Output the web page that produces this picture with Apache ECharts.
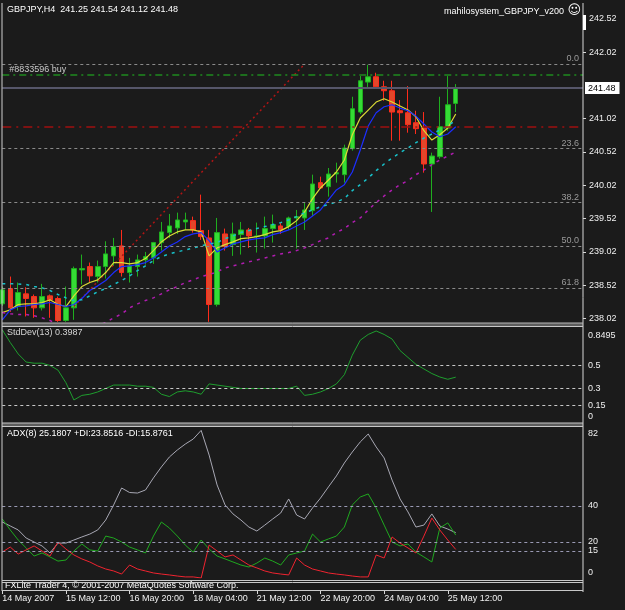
<!DOCTYPE html>
<html>
<head>
<meta charset="utf-8">
<script src="https://cdn.jsdelivr.net/npm/echarts@6/dist/echarts.min.js"></script>
<style>
    html, body { margin: 0; padding: 0; background: #1b1b1b; }
    #chart { width: 625px; height: 610px; }
</style>
</head>
<body>
<div id="chart"></div>
<script>
var symbolName = 'GBPJPY,H4';
var expertName = 'mahilosystem_GBPJPY_v200';
var firstLabel = '14 May 2007';

var barTimes = [
    '14 May 04:00', '14 May 08:00', '14 May 12:00', '14 May 16:00', '14 May 20:00',
    '15 May 00:00', '15 May 04:00', '15 May 08:00', '15 May 12:00', '15 May 16:00', '15 May 20:00',
    '16 May 00:00', '16 May 04:00', '16 May 08:00', '16 May 12:00', '16 May 16:00', '16 May 20:00',
    '17 May 00:00', '17 May 04:00', '17 May 08:00', '17 May 12:00', '17 May 16:00', '17 May 20:00',
    '18 May 00:00', '18 May 04:00', '18 May 08:00', '18 May 12:00', '18 May 16:00', '18 May 20:00',
    '21 May 00:00', '21 May 04:00', '21 May 08:00', '21 May 12:00', '21 May 16:00', '21 May 20:00',
    '22 May 00:00', '22 May 04:00', '22 May 08:00', '22 May 12:00', '22 May 16:00', '22 May 20:00',
    '23 May 00:00', '23 May 04:00', '23 May 08:00', '23 May 12:00', '23 May 16:00', '23 May 20:00',
    '24 May 00:00', '24 May 04:00', '24 May 08:00', '24 May 12:00', '24 May 16:00', '24 May 20:00',
    '25 May 00:00', '25 May 04:00', '25 May 08:00', '25 May 12:00', '25 May 16:00'
];

var opens = [
    238.24, 238.47, 238.20, 238.39, 238.35, 238.18, 238.36, 238.32, 237.99, 238.18,
    238.75, 238.80, 238.65, 238.80, 238.96, 239.11, 238.71, 238.80, 238.90, 238.93,
    239.16, 239.31, 239.38, 239.47, 239.49, 239.34, 239.23, 238.23, 239.29, 239.13,
    239.28, 239.35, 239.25, 239.26, 239.37, 239.41, 239.40, 239.53, 239.53, 239.64,
    240.06, 240.00, 240.19, 240.18, 240.57, 241.12, 241.57, 241.65, 241.50, 241.44,
    241.14, 241.11, 240.96, 240.88, 240.34, 240.45, 240.88, 241.25
];
var closes = [
    238.45, 238.18, 238.41, 238.32, 238.18, 238.35, 238.30, 237.99, 238.18, 238.77,
    238.77, 238.66, 238.80, 238.99, 239.10, 238.71, 238.81, 238.90, 238.95, 239.16,
    239.32, 239.41, 239.50, 239.50, 239.35, 239.25, 238.23, 239.31, 239.10, 239.29,
    239.35, 239.26, 239.26, 239.37, 239.43, 239.35, 239.53, 239.55, 239.65, 240.04,
    239.98, 240.19, 240.21, 240.58, 241.17, 241.59, 241.65, 241.50, 241.44, 241.12,
    241.11, 240.93, 240.87, 240.34, 240.46, 240.90, 241.23, 241.48
];
var lows = [
    238.21, 238.12, 238.14, 238.05, 238.03, 238.14, 238.03, 237.97, 237.97, 238.00,
    238.53, 238.57, 238.56, 238.62, 238.81, 238.65, 238.56, 238.65, 238.83, 238.84,
    239.04, 239.23, 239.29, 239.35, 239.31, 239.20, 237.97, 238.20, 239.04, 238.96,
    238.98, 239.08, 239.01, 239.07, 239.16, 239.29, 239.35, 239.07, 239.35, 239.56,
    239.97, 239.85, 240.06, 240.06, 240.54, 241.09, 241.47, 241.47, 241.29, 240.69,
    240.69, 240.81, 240.79, 240.21, 239.62, 240.42, 240.84, 241.12
];
var highs = [
    238.50, 238.65, 238.56, 238.49, 238.38, 238.54, 238.38, 238.35, 238.50, 238.80,
    238.98, 238.86, 238.89, 239.18, 239.23, 239.35, 238.93, 238.98, 239.02, 239.17,
    239.47, 239.59, 239.61, 239.61, 239.55, 239.88, 239.35, 239.53, 239.37, 239.46,
    239.47, 239.38, 239.46, 239.55, 239.58, 239.46, 239.55, 239.65, 239.76, 240.18,
    240.15, 240.28, 240.36, 240.63, 241.35, 241.66, 241.83, 241.71, 241.59, 241.59,
    241.30, 241.51, 241.14, 241.12, 240.51, 241.35, 241.66, 241.54
];

// moving averages
var maFast = [
    238.11, 238.15, 238.23, 238.24, 238.24, 238.26, 238.30, 238.23, 238.20, 238.36,
    238.50, 238.56, 238.60, 238.71, 238.86, 238.86, 238.84, 238.86, 238.92, 239.04,
    239.17, 239.26, 239.32, 239.35, 239.35, 239.32, 238.96, 239.08, 239.13, 239.17,
    239.22, 239.23, 239.25, 239.28, 239.32, 239.34, 239.40, 239.49, 239.62, 239.82,
    239.98, 240.10, 240.22, 240.40, 240.78, 241.03, 241.15, 241.27, 241.32, 241.27,
    241.21, 241.15, 241.05, 240.84, 240.70, 240.78, 240.88, 241.09
];
var maSlow = [
    238.00, 238.15, 238.20, 238.21, 238.23, 238.24, 238.26, 238.23, 238.20, 238.23,
    238.32, 238.44, 238.51, 238.59, 238.71, 238.80, 238.81, 238.83, 238.86, 238.93,
    239.02, 239.11, 239.17, 239.25, 239.29, 239.31, 239.19, 239.02, 239.08, 239.14,
    239.17, 239.20, 239.22, 239.23, 239.28, 239.31, 239.35, 239.41, 239.47, 239.56,
    239.65, 239.80, 239.95, 240.03, 240.22, 240.55, 240.91, 241.11, 241.20, 241.23,
    241.18, 241.14, 241.06, 240.94, 240.82, 240.75, 240.79, 240.90
];
var maMid = [
    238.54, 238.54, 238.54, 238.53, 238.50, 238.48, 238.44, 238.38, 238.33, 238.29,
    238.30, 238.36, 238.42, 238.47, 238.53, 238.59, 238.66, 238.74, 238.81, 238.89,
    238.95, 238.99, 239.02, 239.05, 239.08, 239.11, 239.14, 239.16, 239.22, 239.26,
    239.31, 239.34, 239.37, 239.40, 239.43, 239.46, 239.50, 239.55, 239.61, 239.65,
    239.70, 239.73, 239.77, 239.82, 239.94, 240.03, 240.13, 240.24, 240.34, 240.43,
    240.51, 240.58, 240.66, 240.73, 240.79, 240.85, 240.91, 241.00
];
var maLong = [
    238.11, 238.09, 238.08, 238.08, 238.06, 238.03, 237.99, 237.93, 237.88, 237.85,
    237.85, 237.88, 237.91, 237.96, 238.03, 238.09, 238.18, 238.24, 238.29, 238.33,
    238.39, 238.45, 238.50, 238.56, 238.60, 238.65, 238.68, 238.72, 238.78, 238.81,
    238.84, 238.87, 238.90, 238.93, 238.96, 238.99, 239.01, 239.04, 239.08, 239.13,
    239.19, 239.23, 239.31, 239.37, 239.46, 239.53, 239.65, 239.76, 239.86, 239.95,
    240.03, 240.09, 240.18, 240.25, 240.33, 240.40, 240.46, 240.52
];

var stdDev = [
    0.81, 0.70, 0.60, 0.53, 0.52, 0.52, 0.50, 0.46, 0.35, 0.20,
    0.24, 0.25, 0.27, 0.30, 0.33, 0.33, 0.33, 0.32, 0.32, 0.31,
    0.25, 0.23, 0.27, 0.28, 0.27, 0.25, 0.34, 0.33, 0.32, 0.31,
    0.30, 0.30, 0.30, 0.30, 0.30, 0.30, 0.30, 0.32, 0.24, 0.25,
    0.27, 0.30, 0.34, 0.42, 0.59, 0.72, 0.77, 0.80, 0.77, 0.73,
    0.63, 0.57, 0.51, 0.47, 0.43, 0.40, 0.38, 0.3987
];

var adxMain = [
    31.1, 28.9, 26.7, 22.2, 20.0, 17.8, 13.9, 19.4, 19.4, 21.1,
    22.8, 24.4, 26.7, 32.2, 40.6, 50.0, 47.5, 47.2, 48.9, 55.6,
    61.7, 67.2, 71.1, 74.4, 77.2, 82.0, 68.3, 51.7, 40.6, 35.6,
    32.2, 28.3, 26.1, 29.4, 32.8, 36.1, 43.9, 35.0, 32.8, 38.9,
    44.4, 50.6, 56.7, 63.9, 70.0, 75.6, 80.0, 72.8, 66.7, 54.4,
    43.9, 36.7, 28.3, 29.4, 35.6, 28.9, 27.2, 25.1807
];
var plusDI = [
    32.8, 26.7, 21.1, 16.7, 12.2, 13.9, 11.7, 9.4, 10.0, 15.0,
    18.9, 15.6, 15.0, 23.3, 22.2, 20.0, 17.2, 15.6, 13.9, 23.3,
    31.1, 27.8, 23.3, 18.3, 14.4, 21.1, 16.1, 12.2, 10.6, 8.9,
    7.2, 6.1, 8.3, 11.1, 9.4, 7.2, 12.8, 13.9, 15.0, 24.4,
    20.0, 21.7, 23.3, 28.3, 40.6, 45.0, 46.7, 38.9, 29.4, 20.0,
    17.8, 18.9, 14.4, 11.7, 8.9, 27.8, 30.6, 23.8516
];
var minusDI = [
    14.4, 17.2, 13.3, 15.6, 17.8, 15.0, 12.2, 20.0, 16.1, 12.8,
    10.6, 8.9, 6.7, 5.0, 3.9, 2.2, 7.2, 5.0, 3.9, 2.8,
    2.2, 1.7, 1.1, 0.6, 0.6, 0.0, 18.3, 15.0, 11.7, 12.8,
    10.0, 7.2, 5.6, 3.9, 2.8, 2.2, 1.7, 11.1, 7.2, 5.0,
    3.9, 2.8, 2.2, 1.7, 1.1, 0.6, 0.6, 12.8, 11.1, 22.8,
    19.4, 16.7, 13.9, 23.3, 33.3, 26.7, 21.1, 15.8761
];

var priceTicks = [238.02, 238.52, 239.02, 239.52, 240.02, 240.52, 241.02, 242.02, 242.52];
var stdTicks = [0, 0.15, 0.3, 0.5, 0.8495];
var adxTicks = [0, 15, 20, 40, 82];
var stdLevels = [0.5, 0.3, 0.15];
var adxLevels = [40, 20, 15];

var fibLevels = [241.84, 240.57, 239.76, 239.11, 238.48];
var fibNames = ['0.0', '23.6', '38.2', '50.0', '61.8'];
var orderOpen = 241.68;
var stopLoss = 240.90;
var bidPrice = 241.48;
var trendStart = [9, 238.20];
var trendEnd = [38, 241.84];

document.addEventListener("DOMContentLoaded", function () {

    var font = 'Liberation Sans, Arial, sans-serif';
    var white = '#f0f0f0';
    var last = closes.length - 1;

    // empty slots on the right (chart shift)
    var categories = barTimes.slice();
    for (var k = 0; k < 16; k++) {
        categories.push('');
    }

    var candleData = opens.map(function (o, i) {
        return [o, closes[i], lows[i], highs[i]];
    });

    var mainLines = fibLevels.map(function (v, i) {
        return {
            yAxis: v,
            lineStyle: { color: '#8a8a8a', type: [3, 3], width: 1 },
            label: {
                show: true, formatter: fibNames[i], position: 'insideEndTop', distance: 1,
                color: '#9a9a9a', fontSize: 9, fontFamily: font, padding: [0, 3, 0, 0]
            }
        };
    });
    mainLines.push({
        yAxis: orderOpen,
        lineStyle: { color: '#1f8a1f', type: [7, 4, 2, 4], width: 1.5 },
        label: {
            show: true, formatter: '#8833596 buy', position: 'insideStartTop', distance: 1,
            color: '#c8c8c8', fontSize: 9, fontFamily: font, padding: [0, 0, 0, 6]
        }
    });
    mainLines.push({
        yAxis: stopLoss,
        lineStyle: { color: '#a01010', type: [9, 5, 2, 5], width: 1.5 },
        label: { show: false }
    });
    mainLines.push({
        yAxis: bidPrice,
        lineStyle: { color: '#56566a', type: 'solid', width: 2 },
        label: {
            show: true, position: 'end', distance: 2, formatter: bidPrice.toFixed(2),
            color: '#000', backgroundColor: '#fff', padding: [2, 4, 1, 3],
            fontSize: 9, fontFamily: font
        }
    });

    function levelLines(levels, color) {
        return {
            silent: true,
            symbol: ['none', 'none'],
            animation: false,
            label: { show: false },
            lineStyle: { color: color, type: [3, 3], width: 1 },
            data: levels.map(function (v) { return { yAxis: v }; })
        };
    }

    function lineSeries(name, data, xi, color, width, dash) {
        return {
            name: name,
            type: 'line',
            xAxisIndex: xi,
            yAxisIndex: xi,
            data: data,
            symbol: 'none',
            showSymbol: false,
            emphasis: { disabled: true },
            lineStyle: { color: color, width: width, type: dash || 'solid' }
        };
    }

    function frameLine(x1, y1, x2, y2, color, w) {
        return {
            type: 'line', z: 100, silent: true,
            shape: { x1: x1, y1: y1, x2: x2, y2: y2 },
            style: { stroke: color, lineWidth: w || 1 }
        };
    }

    var titleStyle = { color: '#ffffff', fontSize: 9, fontWeight: 'normal', fontFamily: font };
    var showEvery8 = function (index, value) { return index % 8 === 0 && value !== ''; };

    var option = {
        backgroundColor: '#1b1b1b',
        animation: false,
        title: [
            {
                text: symbolName + '  ' + [opens[last], highs[last], lows[last], closes[last]].map(function (v) { return v.toFixed(2); }).join(' '),
                left: 7, top: 5, padding: 0, textStyle: titleStyle
            },
            { text: expertName, right: 61, top: 7, padding: 0, textStyle: titleStyle },
            { text: '\u263A', right: 44, top: 4, padding: 0, textStyle: { color: '#ffffff', fontSize: 13, fontFamily: 'DejaVu Sans' } },
            {
                text: 'StdDev(13) ' + stdDev[last].toFixed(4),
                left: 7, top: 328, padding: 0, textStyle: { color: '#d4d4d4', fontSize: 9, fontWeight: 'normal', fontFamily: font }
            },
            {
                text: 'ADX(8) ' + adxMain[last].toFixed(4) + ' +DI:' + plusDI[last].toFixed(4) + ' -DI:' + minusDI[last].toFixed(4),
                left: 7, top: 429, padding: 0, textStyle: titleStyle
            },
            {
                text: 'FXLite Trader 4, \u00A9 2001-2007 MetaQuotes Software Corp.',
                left: 5, top: 581, padding: 0, textStyle: titleStyle
            }
        ],
        grid: [
            { left: 2.3, right: 42, top: 3.5, height: 319, outerBoundsMode: 'none' },
            { left: 2.3, right: 42, top: 325.3, height: 97.7, outerBoundsMode: 'none' },
            { left: 2.3, right: 42, top: 430.4, height: 147.6, outerBoundsMode: 'none' },
            { left: 2.3, right: 42, top: 586, height: 4, outerBoundsMode: 'none' }
        ],
        xAxis: [
            { type: 'category', gridIndex: 0, data: categories, boundaryGap: false, show: false },
            { type: 'category', gridIndex: 1, data: categories, boundaryGap: false, show: false },
            { type: 'category', gridIndex: 2, data: categories, boundaryGap: false, show: false },
            {
                type: 'category', gridIndex: 3, data: categories, boundaryGap: false,
                position: 'bottom',
                axisLine: { show: false },
                splitLine: { show: false },
                axisTick: {
                    show: true, length: 4,
                    lineStyle: { color: '#d8d8d8' },
                    interval: showEvery8
                },
                axisLabel: {
                    color: white, fontSize: 9, fontFamily: font, align: 'left', margin: 4,
                    interval: showEvery8,
                    formatter: function (value, index) { return index === 0 ? firstLabel : value; }
                }
            }
        ],
        yAxis: [
            {
                type: 'value', gridIndex: 0, position: 'right', min: 237.96, max: 242.75,
                axisLine: { show: false },
                splitLine: { show: false },
                axisTick: { show: true, length: 3, lineStyle: { color: '#d8d8d8' }, customValues: priceTicks },
                axisLabel: {
                    customValues: priceTicks, margin: 6, color: white, fontSize: 9, fontFamily: font,
                    formatter: function (v) { return v.toFixed(2); }
                }
            },
            {
                type: 'value', gridIndex: 1, position: 'right', min: 0, max: 0.8495,
                axisLine: { show: false },
                splitLine: { show: false },
                axisTick: { show: false },
                axisLabel: {
                    customValues: stdTicks, margin: 5, color: white, fontSize: 9, fontFamily: font,
                    formatter: function (v) {
                        if (Math.abs(v - 0.8495) < 1e-6) return '{t|0.8495}';
                        if (v === 0) return '{b|0}';
                        return String(v);
                    },
                    rich: {
                        t: { padding: [20, 0, 0, 0], color: white, fontSize: 9, fontFamily: font },
                        b: { padding: [0, 0, 12, 0], color: white, fontSize: 9, fontFamily: font }
                    }
                }
            },
            {
                type: 'value', gridIndex: 2, position: 'right', min: 0, max: 82,
                axisLine: { show: false },
                splitLine: { show: false },
                axisTick: { show: false },
                axisLabel: {
                    customValues: adxTicks, margin: 5, color: white, fontSize: 9, fontFamily: font,
                    formatter: function (v) {
                        if (v === 82) return '{t|82}';
                        if (v === 0) return '{b|0}';
                        return String(v);
                    },
                    rich: {
                        t: { padding: [6, 0, 0, 0], color: white, fontSize: 9, fontFamily: font },
                        b: { padding: [0, 0, 10, 0], color: white, fontSize: 9, fontFamily: font }
                    }
                }
            },
            { type: 'value', gridIndex: 3, show: false }
        ],
        graphic: [
            frameLine(2, 3, 2, 591, '#d0d0d0'),
            frameLine(583, 3, 583, 592, '#d8d8d8'),
            { type: 'rect', z: 99, silent: true, shape: { x: 2, y: 323, width: 581, height: 3 }, style: { fill: '#5c5c5c' } },
            frameLine(2, 323, 583, 323, '#b8b8b8'),
            frameLine(2, 326.5, 583, 326.5, '#c8c8c8'),
            { type: 'rect', z: 99, silent: true, shape: { x: 2, y: 423, width: 581, height: 3 }, style: { fill: '#5c5c5c' } },
            frameLine(2, 423, 583, 423, '#c8c8c8'),
            frameLine(2, 426.5, 583, 426.5, '#c8c8c8'),
            frameLine(2, 580.5, 583, 580.5, '#c8c8c8'),
            frameLine(2, 582.5, 583, 582.5, '#c8c8c8'),
            frameLine(2, 590.5, 583, 590.5, '#c8c8c8'),
            { type: 'rect', z: 100, silent: true, shape: { x: 583, y: 15, width: 3, height: 15 }, style: { fill: '#ffffff' } }
        ],
        series: [
            {
                name: symbolName,
                type: 'candlestick',
                xAxisIndex: 0,
                yAxisIndex: 0,
                data: candleData,
                barWidth: 5,
                emphasis: { disabled: true },
                itemStyle: {
                    color: '#35dc35',
                    color0: '#e2472a',
                    borderColor: '#1fae1f',
                    borderColor0: '#ff2b1b',
                    borderWidth: 1
                },
                markLine: {
                    silent: true,
                    symbol: ['none', 'none'],
                    animation: false,
                    data: mainLines
                }
            },
            lineSeries('Trend', [trendStart, trendEnd], 0, '#b01515', 1.5, [2, 3]),
            lineSeries('MA fast', maFast, 0, '#dcdc36', 1.2),
            lineSeries('MA slow', maSlow, 0, '#1c2eff', 1.2),
            lineSeries('MA mid', maMid, 0, '#18c0c8', 1.5, [3, 5]),
            lineSeries('MA long', maLong, 0, '#b01cb0', 1.5, [3, 5]),
            Object.assign(lineSeries('StdDev', stdDev, 1, '#1e9e2e', 1), { markLine: levelLines(stdLevels, '#c8c8c8') }),
            Object.assign(lineSeries('ADX', adxMain, 2, '#a8a8b4', 1), { markLine: levelLines(adxLevels, '#9a9ab4') }),
            lineSeries('+DI', plusDI, 2, '#1fa81f', 1),
            lineSeries('-DI', minusDI, 2, '#f02430', 1)
        ]
    };

    var chart = echarts.init(document.getElementById('chart'));
    chart.setOption(option);

    window.addEventListener('resize', function () {
        chart.resize();
    });
});
</script>
</body>
</html>
